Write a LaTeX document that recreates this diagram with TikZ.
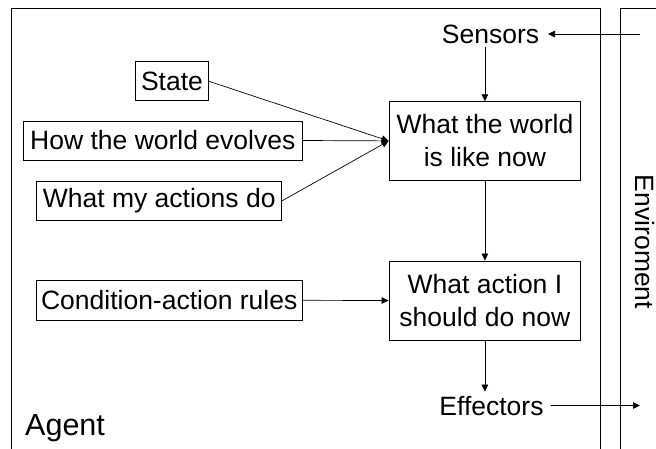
\documentclass[tikz,border=0pt]{standalone}
\usepackage{fontspec}
\setmainfont{Liberation Sans}
\usetikzlibrary{arrows.meta,calc}
\tikzset{
  box/.style={draw, line width=0.8pt, rectangle, inner sep=0pt, align=center,
    font=\fontsize{26.5}{33}\selectfont},
  label/.style={inner sep=0pt, font=\fontsize{26.5}{33}\selectfont},
  link/.style={line width=0.7pt, -{Triangle[length=7pt,width=6.5pt]}},
  frame/.style={line width=0.9pt}
}
\begin{document}
\begin{tikzpicture}[x=1pt, y=-1pt]
  \useasboundingbox (0,0) rectangle (656,448);
  \clip (0,0) rectangle (656,448);
  \fill[white] (0,0) rectangle (656,448);

  % agent and environment frames
  \draw[frame] (11.7,8.3) rectangle (600.7,470);
  \draw[frame] (620.7,8.3) rectangle (700,470);

  % knowledge boxes on the left
  \node[box, minimum width=72.6pt, minimum height=39pt] (state) at (172,81.2) {State};
  \node[box, minimum width=279pt, minimum height=39pt] (evolves) at (162.8,140.5) {How the world evolves};
  \node[box, minimum width=245pt, minimum height=39.7pt] (actions) at (159.2,200.8) {What my actions do};
  \node[box, minimum width=266.3pt, minimum height=39.3pt] (rules) at (169.2,300.3) {Condition-action rules};

  % reasoning boxes in the middle
  \node[box, minimum width=191.7pt, minimum height=78.3pt] (world) at (484.9,140.9) {What the world\\is like now};
  \node[box, minimum width=191.7pt, minimum height=79pt] (decide) at (484.9,300.5) {What action I\\should do now};

  % sensors, effectors and frame labels
  \node[label, anchor=base] (sensors) at (490.5,43.3) {Sensors};
  \node[label, anchor=base] (effectors) at (491.5,415) {Effectors};
  \node[inner sep=0pt, anchor=base west, font=\fontsize{30.5}{33}\selectfont] (agent) at (25,435) {Agent};
  \node[label, rotate=-90] (env) at (645,242) {Enviroment};

  \coordinate (envin) at (640,34);
  \coordinate (envout) at (640,405.5);

  % connectors
  \draw[link, shorten >=8.7pt] (envin) -- (envin -| sensors.east);
  \draw[link, shorten <=3.7pt] (world.north |- sensors.south) -- (world.north);
  \draw[link] (state.east) -- (world.west);
  \draw[link] (evolves.east) -- (world.west);
  \draw[link] (actions.east) -- (world.west);
  \draw[link] (world.south) -- (decide.north);
  \draw[link] (rules.east) -- (decide.west);
  \draw[link, shorten >=4pt] (decide.south) -- (decide.south |- effectors.north);
  \draw[link, shorten <=7pt] (effectors.east) -- (envout);
\end{tikzpicture}
\end{document}
